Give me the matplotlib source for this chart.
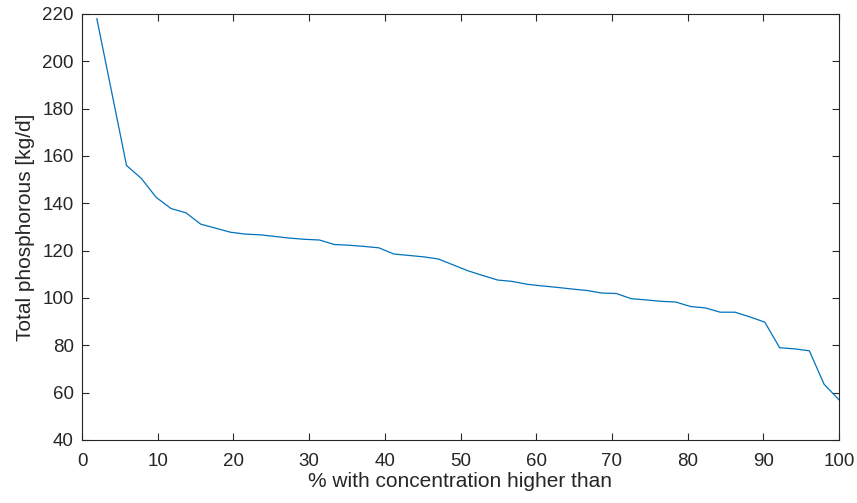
import matplotlib
matplotlib.use("Agg")
import matplotlib.pyplot as plt
import numpy as np

plt.rcParams['font.family'] = ['Liberation Sans', 'DejaVu Sans']

# exceedance percentage (51 samples, k/51*100)
percent = np.arange(1, 52) * 100.0 / 51
# total phosphorous load [kg/d]
phosphorous = [
    218.0, 187.0, 156.0, 150.5, 142.5, 137.8, 136.0, 131.2, 129.5, 127.8,
    127.0, 126.7, 126.0, 125.3, 124.8, 124.5, 122.6, 122.3, 121.8, 121.2,
    118.6, 118.0, 117.4, 116.5, 114.0, 111.5, 109.5, 107.6, 107.0, 105.8,
    105.1, 104.5, 103.8, 103.2, 102.1, 101.9, 99.7, 99.2, 98.6, 98.3,
    96.4, 95.8, 94.0, 94.0, 92.0, 89.8, 79.0, 78.5, 77.7, 63.5, 57.0,
]

ax_color = '#262626'

fig = plt.figure(figsize=(8.57, 5.03), dpi=100)
ax = fig.add_axes([82 / 857, 63 / 503, 757 / 857, 426 / 503])
ax.plot(percent, phosphorous, color='#0072BD', linewidth=0.9)

ax.set_xlim(0, 100)
ax.set_ylim(40, 220)
ax.set_xticks(np.arange(0, 101, 10))
ax.set_yticks(np.arange(40, 221, 20))
ax.tick_params(direction='in', top=True, right=True, length=5, width=0.8,
               colors=ax_color, labelsize=13.5)
ax.tick_params(axis='x', pad=9)
ax.tick_params(axis='y', pad=6)
for spine in ax.spines.values():
    spine.set_color(ax_color)
    spine.set_linewidth(0.8)

ax.set_xlabel('% with concentration higher than', fontsize=15, color=ax_color, labelpad=2)
ax.set_ylabel('Total phosphorous [kg/d]', fontsize=15, color=ax_color, labelpad=5)

fig.savefig('out.png', dpi=100)
